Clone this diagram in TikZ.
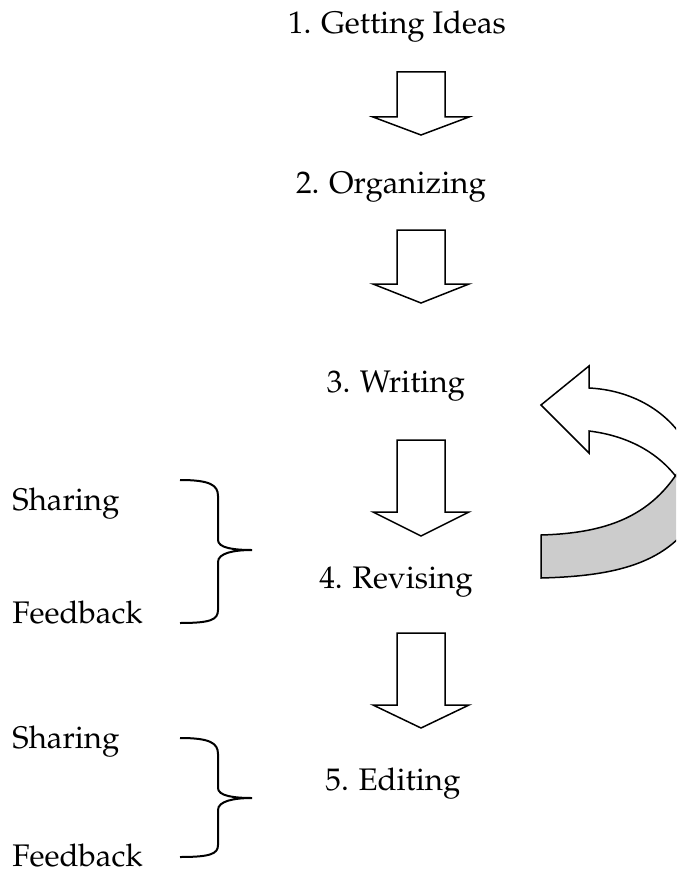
\documentclass[tikz,border=0pt]{standalone}
\usepackage[T1]{fontenc}
\usepackage{mathpazo}
\usepackage{tikz}
\usetikzlibrary{positioning}
\usepackage{xcolor}

\newcommand{\blockdown}[3]{\draw [blockarrow] (397, #1)--(445, #1)--(445, #2)--(469, #2)--(421, #3)--(373, #2)--(397, #2)--cycle;}

\begin{document}
\begin{tikzpicture} [x=0.5pt, y=-0.5pt,
		stage/.style={anchor=base, inner sep=0pt, font=\fontsize{15.6}{18}\selectfont},
		side/.style={anchor=base west, inner sep=0pt, font=\fontsize{15.6}{18}\selectfont},
		blockarrow/.style={draw=black, fill=white, line width=0.75pt, line join=miter},
		brace/.style={black, line width=1pt}]
										\useasboundingbox (0, 0) rectangle (676, 872);
										\node [stage] (ideas) at (397, 34) {1. Getting Ideas};
										\node [stage] (organizing) at (391, 193) {2. Organizing};
										\node [stage] (writing) at (396, 392) {3. Writing};
										\node [stage] (revising) at (396, 588) {4. Revising};
										\node [stage] (editing) at (393, 790) {5. Editing};
										\blockdown{72}{117}{135}
										\blockdown{230}{284}{303}
										\blockdown{440}{512}{536}
										\blockdown{633}{705}{728}
										\node [side] (share1) at (12, 510) {Sharing};
										\node [side] (feed1) at (12, 623) {Feedback};
										\node [side] (share2) at (12, 748) {Sharing};
										\node [side] (feed2) at (12, 866) {Feedback};
										\draw [brace] (180, 480) .. controls (210, 480) and (218, 485) .. (218, 496)--(218, 540) .. controls (218, 548) and (234, 550) .. (252, 550) .. controls (234, 550) and (218, 553) .. (218, 562)--(218, 610) .. controls (218, 620) and (210, 623) .. (180, 623);
										\draw [brace] (180, 738) .. controls (210, 738) and (218, 743) .. (218, 754)--(218, 788) .. controls (218, 796) and (234, 798) .. (252, 798) .. controls (234, 798) and (218, 801) .. (218, 810)--(218, 845) .. controls (218, 854) and (210, 857) .. (180, 857);
										\begin{scope}
										\clip (0, 0) rectangle (676, 872);
										\draw [blockarrow] (541, 405)--(589, 366)--(589, 388) .. controls (630, 390) and (670, 410) .. (690, 450)--(685, 490) .. controls (665, 455) and (630, 436) .. (589, 431)--(589, 453)--cycle;
										\draw [blockarrow, fill=gray!40] (541, 535)--(541, 578) .. controls (620, 576) and (675, 562) .. (702, 505)--(690, 450) .. controls (660, 515) and (610, 533) .. (541, 535)--cycle;
										\end{scope}
									\end{tikzpicture}
\end{document}
